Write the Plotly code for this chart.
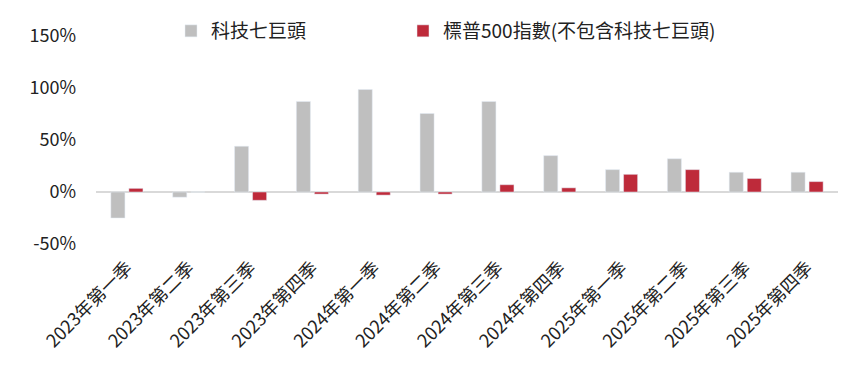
import plotly.graph_objects as go

categories = ["2023年第一季", "2023年第二季", "2023年第三季", "2023年第四季",
              "2024年第一季", "2024年第二季", "2024年第三季", "2024年第四季",
              "2025年第一季", "2025年第二季", "2025年第三季", "2025年第四季"]
mag7 = [-25, -5, 44, 87, 98.5, 75.5, 87, 35, 21.5, 32, 19, 19]
sp493 = [3.5, 0, -8, -2, -3, -2, 7, 4, 17, 21.5, 13, 10]
name_mag7 = "科技七巨頭"
name_sp493 = "標普500指數(不包含科技七巨頭)"
ytick_vals = [-50, 0, 50, 100, 150]
ytick_text = ["-50%", "0%", "50%", "100%", "150%"]

FONT = "Noto Sans CJK TC"
fig = go.Figure()
fig.add_trace(go.Bar(x=categories, y=mag7, name=name_mag7, marker_color="#bfbfbf",
                     legend="legend"))
fig.add_trace(go.Bar(x=categories, y=sp493, name=name_sp493, marker_color="#be2a3a",
                     legend="legend2"))

leg_common = dict(orientation="h", xref="container", yref="container",
                  xanchor="left", yanchor="top",
                  font=dict(size=19, color="#222"), bgcolor="rgba(0,0,0,0)")
fig.update_layout(
    width=864, height=365,
    margin=dict(l=88, r=34, t=28, b=129, autoexpand=False),
    paper_bgcolor="white", plot_bgcolor="white",
    barmode="group", bargap=0.417, bargroupgap=0.22,
    font=dict(family=FONT, size=18, color="#222"),
    showlegend=True,
    legend=dict(x=163/864, y=1-4/365, **leg_common),
    legend2=dict(x=395/864, y=1-4/365, **leg_common),
)
fig.update_xaxes(showgrid=False, showline=False, ticks="", tickangle=-45,
                 tickfont=dict(size=18, color="#222"), ticklabelstandoff=9)
fig.update_yaxes(range=[-50, 150], tickmode="array", tickvals=ytick_vals,
                 ticktext=ytick_text,
                 showgrid=False, showline=False, ticks="",
                 zeroline=True, zerolinecolor="#d9d9d9", zerolinewidth=2,
                 tickfont=dict(size=18, color="#222"), ticklabelstandoff=19)

fig.write_html("out.html")
